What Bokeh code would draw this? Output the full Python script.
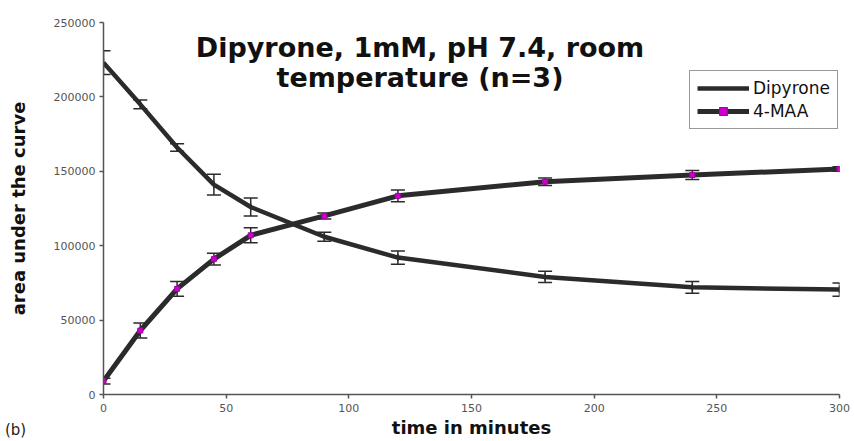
from bokeh.plotting import figure
from bokeh.models import (ColumnDataSource, Whisker, TeeHead, FixedTicker, BasicTickFormatter,
                          Legend, LegendItem, Label, Range1d, Div)
from bokeh.layouts import column
from bokeh.embed import file_html
from bokeh.resources import INLINE

# ---- data ----
time_min = [0, 15, 30, 45, 60, 90, 120, 180, 240, 300]
dipyrone = [223000, 195000, 166000, 141000, 126000, 106000, 92000, 79000, 72000, 70500]
dipyrone_err = [8000, 3000, 2500, 7000, 6000, 3000, 4500, 3800, 4000, 4400]
maa = [9000, 43000, 71000, 91000, 107000, 120000, 133500, 143000, 147500, 151500]
maa_err = [2000, 5000, 5000, 4000, 5000, 2000, 4000, 2500, 3000, 1500]
x_ticks = [0, 50, 100, 150, 200, 250, 300]
y_ticks = [0, 50000, 100000, 150000, 200000, 250000]
title_lines = ["Dipyrone, 1mM, pH 7.4, room", "temperature (n=3)"]
panel_tag = "(b)"

FONT = "DejaVu Sans"
DARK = "#2b2b2b"

src_d = ColumnDataSource(dict(x=time_min, y=dipyrone,
                              lo=[v - e for v, e in zip(dipyrone, dipyrone_err)],
                              hi=[v + e for v, e in zip(dipyrone, dipyrone_err)]))
src_m = ColumnDataSource(dict(x=time_min, y=maa,
                              lo=[v - e for v, e in zip(maa, maa_err)],
                              hi=[v + e for v, e in zip(maa, maa_err)]))

p = figure(width=854, height=441, output_backend="svg", toolbar_location=None,
           x_range=Range1d(0, 300), y_range=Range1d(0, 250000),
           min_border_left=103, min_border_right=15, min_border_top=22, min_border_bottom=47)
p.outline_line_color = None
p.xgrid.visible = False
p.ygrid.visible = False
p.background_fill_color = "white"
p.border_fill_color = "white"

for ax in (p.xaxis[0], p.yaxis[0]):
    ax.axis_line_color = "#555555"
    ax.axis_line_width = 1.5
    ax.major_tick_line_color = "#555555"
    ax.major_tick_line_width = 1.5
    ax.major_tick_in = 0
    ax.major_tick_out = 4
    ax.minor_tick_line_color = None
    ax.major_label_text_font = FONT
    ax.major_label_text_font_size = "11px"
    ax.major_label_text_color = "#555555"
    ax.axis_label_text_font = FONT
    ax.axis_label_text_font_style = "bold"
    ax.axis_label_text_font_size = "18px"
    ax.axis_label_text_color = "#111111"

p.xaxis.ticker = FixedTicker(ticks=x_ticks)
p.yaxis.ticker = FixedTicker(ticks=y_ticks)
p.yaxis.formatter = BasicTickFormatter(use_scientific=False)
p.xaxis.axis_label = "time in minutes"
p.yaxis.axis_label = "area under the curve"
p.xaxis.major_label_standoff = 5
p.yaxis.major_label_standoff = 4
p.xaxis.axis_label_standoff = 2
p.yaxis.axis_label_standoff = 22

# error bars
for src in (src_d, src_m):
    w = Whisker(source=src, base="x", upper="hi", lower="lo",
                line_color=DARK, line_width=1.5,
                upper_head=TeeHead(size=14, line_color=DARK, line_width=1.5),
                lower_head=TeeHead(size=14, line_color=DARK, line_width=1.5))
    p.add_layout(w)

ld = p.line("x", "y", source=src_d, line_color=DARK, line_width=4.5)
sd = p.scatter("x", "y", source=src_d, marker="dash", size=7, angle=1.5708,
               line_color=DARK, line_width=1.5)
lm = p.line("x", "y", source=src_m, line_color=DARK, line_width=5)
sm = p.scatter("x", "y", source=src_m, marker="square", size=5,
               fill_color="#cc00cc", line_color="#aa00aa")

legend = Legend(items=[LegendItem(label="Dipyrone", renderers=[ld, sd]),
                       LegendItem(label="4-MAA", renderers=[lm, sm])],
                location=(586, 265), border_line_color="#333333", border_line_width=1,
                label_text_font=FONT, label_text_font_size="17px", label_text_color="#111111",
                glyph_width=52, glyph_height=20, label_standoff=4, padding=7, spacing=3,
                label_height=18, margin=0, background_fill_alpha=1)
p.add_layout(legend, "center")

# title inside plot
for i, t in enumerate(title_lines):
    p.add_layout(Label(x=129, y=[233500, 213000][i], text=t, text_font=FONT,
                       text_font_style="bold", text_font_size="27px", text_color="#111111",
                       text_align="center", text_baseline="alphabetic"))

tag = Div(text=f'<div style="font-family:\'DejaVu Sans\';font-size:15px;line-height:19px;color:#222">{panel_tag}</div>',
          width=40, height=19, margin=(-20, 0, 0, 5))

layout = column(p, tag, spacing=0)
open("out.html", "w").write(file_html(layout, INLINE))
